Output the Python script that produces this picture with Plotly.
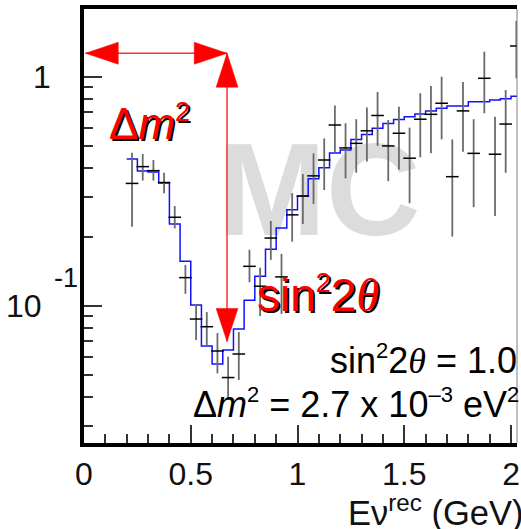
import numpy as np
import plotly.graph_objects as go

# ---- data -------------------------------------------------------------
# reconstructed-energy bins (GeV), 0.05 GeV wide
bin_lo = [0.20, 0.25, 0.30, 0.35, 0.40, 0.45, 0.50, 0.55, 0.60, 0.65,
          0.70, 0.75, 0.80, 0.85, 0.90, 0.95, 1.00, 1.05, 1.10, 1.15,
          1.20, 1.25, 1.30, 1.35, 1.40, 1.45, 1.50, 1.55, 1.60, 1.65,
          1.70, 1.75, 1.80, 1.85, 1.90, 1.95, 2.00]
bin_hi_last = 2.05
bin_center = [0.225, 0.275, 0.325, 0.375, 0.425, 0.475, 0.525, 0.575, 0.625, 0.675,
              0.725, 0.775, 0.825, 0.875, 0.925, 0.975, 1.025, 1.075, 1.125, 1.175,
              1.225, 1.275, 1.325, 1.375, 1.425, 1.475, 1.525, 1.575, 1.625, 1.675,
              1.725, 1.775, 1.825, 1.875, 1.925, 1.975, 2.025]

# oscillated expectation (step histogram)
expected = [0.438, 0.389, 0.385, 0.344, 0.228, 0.157, 0.101, 0.0669, 0.0558, 0.0643,
            0.0794, 0.106, 0.135, 0.177, 0.219, 0.263, 0.302, 0.359, 0.401, 0.466,
            0.480, 0.533, 0.561, 0.597, 0.626, 0.652, 0.671, 0.689, 0.711, 0.730,
            0.747, 0.747, 0.780, 0.780, 0.794, 0.804, 0.824]

# MC pseudo-data ratio with error band limits
ratio = [0.343, 0.406, 0.390, 0.346, 0.244, 0.133, 0.0877, 0.0812, 0.0636, 0.0487,
         0.0617, 0.149, 0.122, 0.198, 0.134, 0.250, 0.302, 0.370, 0.434, 0.617,
         0.490, 0.513, 0.582, 0.679, 0.500, 0.568, 0.442, 0.654, 0.687, 0.768,
         0.367, 0.711, 0.464, 0.987, 0.460, 0.623, 1.366]
ratio_hi = [0.467, 0.461, 0.434, 0.382, 0.273, 0.151, 0.102, 0.0941, 0.0762, 0.0601,
            0.0770, 0.176, 0.147, 0.235, 0.169, 0.311, 0.377, 0.464, 0.539, 0.751,
            0.628, 0.654, 0.736, 0.860, 0.649, 0.742, 0.601, 0.849, 0.914, 1.003,
            0.534, 0.951, 0.654, 1.290, 0.671, 0.877, 1.762]
ratio_lo = [0.222, 0.353, 0.353, 0.311, 0.218, 0.113, 0.0710, 0.0669, 0.0508, 0.0389,
            0.0475, 0.127, 0.0904, 0.159, 0.0923, 0.191, 0.228, 0.279, 0.321, 0.471,
            0.361, 0.382, 0.427, 0.500, 0.351, 0.393, 0.281, 0.446, 0.464, 0.534,
            0.201, 0.472, 0.270, 0.694, 0.247, 0.382, 0.987]

x_ticks = [0, 0.5, 1, 1.5, 2]
x_tick_text = ["0", "0.5", "1", "1.5", "2"]
x_minor = [0.1, 0.2, 0.3, 0.4, 0.6, 0.7, 0.8, 0.9, 1.1, 1.2, 1.3, 1.4,
           1.6, 1.7, 1.8, 1.9]
y_ticks = [0.1, 1]
y_minor = [0.03, 0.04, 0.05, 0.06, 0.07, 0.08, 0.09,
           0.2, 0.3, 0.4, 0.5, 0.6, 0.7, 0.8, 0.9]

# oscillation-parameter arrow guide (GeV, ratio)
dip_energy = 0.67
arrow_top = 1.27
arrow_bottom = 0.070

# ---- geometry helpers ----------------------------------------------------
X_RANGE = [0.0, 2.028]
Y_RANGE = [-1.5983, 0.2969]          # log10 units
W, H = 521, 529
M_L, M_R, M_T, M_B = 84, 1, 9, 86
PLOT_W = W - M_L - M_R
PLOT_H = H - M_T - M_B


def px(v):
    return (v - X_RANGE[0]) / (X_RANGE[1] - X_RANGE[0])


def py(v):
    return (np.log10(v) - Y_RANGE[0]) / (Y_RANGE[1] - Y_RANGE[0])


def dx(pixels):
    return pixels / PLOT_W


def dy(pixels):
    return pixels / PLOT_H


FONT = "Liberation Sans"
RED = "#ff0000"

fig = go.Figure()

# "MC" watermark behind everything
fig.add_trace(go.Scatter(
    x=[1.1], y=[0.285], mode="text", text=["<b>MC</b>"],
    textposition="middle center",
    textfont=dict(family=FONT, size=131, color="#dcdcdc"),
    hoverinfo="skip"))

# expectation histogram
fig.add_trace(go.Scatter(
    x=bin_lo + [bin_hi_last], y=expected + [expected[-1]],
    mode="lines", line=dict(color="#1010ff", width=1.5, shape="hv"),
    hoverinfo="skip"))

# pseudo-data points
err_up = [h - v for h, v in zip(ratio_hi, ratio)]
err_dn = [v - l for v, l in zip(ratio, ratio_lo)]
fig.add_trace(go.Scatter(
    x=bin_center, y=ratio, mode="markers",
    marker=dict(symbol="line-ew", size=9, color="black",
                line=dict(color="black", width=1.5)),
    error_y=dict(type="data", array=err_up, arrayminus=err_dn,
                 symmetric=False, width=0, thickness=1.8, color="#6a6a6a"),
    hoverinfo="skip"))

# ---- arrow guides ---------------------------------------------------------
shapes = []
ax_x = px(dip_energy)
ax_top = py(arrow_top)
ax_bot = py(arrow_bottom)
left_x = dx(1.5)
head_len, head_half = 33, 11

shapes.append(dict(type="line", xref="paper", yref="paper",
                   x0=left_x, x1=ax_x, y0=ax_top, y1=ax_top,
                   line=dict(color="#ff3030", width=1.5)))
shapes.append(dict(type="line", xref="paper", yref="paper",
                   x0=ax_x, x1=ax_x, y0=ax_top, y1=ax_bot,
                   line=dict(color="#ff3030", width=1.5)))


def tri(tip, b1, b2):
    return "M {} {} L {} {} L {} {} Z".format(tip[0], tip[1], b1[0], b1[1], b2[0], b2[1])


heads = [
    # left-pointing head at the axis
    tri((left_x, ax_top), (left_x + dx(head_len), ax_top + dy(head_half)),
        (left_x + dx(head_len), ax_top - dy(head_half))),
    # right-pointing head at the dip energy
    tri((ax_x, ax_top), (ax_x - dx(head_len), ax_top + dy(head_half)),
        (ax_x - dx(head_len), ax_top - dy(head_half))),
    # upward head
    tri((ax_x, ax_top), (ax_x - dx(head_half), ax_top - dy(head_len + 1)),
        (ax_x + dx(head_half), ax_top - dy(head_len + 1))),
    # downward head at the dip depth
    tri((ax_x, ax_bot), (ax_x - dx(head_half), ax_bot + dy(head_len)),
        (ax_x + dx(head_half), ax_bot + dy(head_len))),
]
for p in heads:
    shapes.append(dict(type="path", xref="paper", yref="paper", path=p,
                       fillcolor=RED, line=dict(color=RED, width=0.5)))

# thin right frame edge
shapes.append(dict(type="line", xref="paper", yref="paper",
                   x0=1, x1=1, y0=0, y1=1,
                   line=dict(color="#808080", width=1)))

# ---- text -----------------------------------------------------------------
ann = []
TH = '<span style="font-family:Liberation Serif"><i>θ</i></span>'


def sup(t, size):
    return '<sup><span style="font-size:{}px">{}</span></sup>'.format(size, t)


def shadowed(text, x, y, size):
    for col, sx, sy in (("black", 2, -2), (RED, 0, 0)):
        ann.append(dict(text=text, x=x, y=y, xref="paper", yref="paper",
                        xanchor="left", yanchor="middle", showarrow=False,
                        xshift=sx, yshift=sy,
                        font=dict(family=FONT, size=size, color=col)))


shadowed("Δ<i>m</i>" + sup("2", 27), dx(109 - M_L - 2), 1 - dy(123 - M_T), 44)
shadowed("sin" + sup("2", 27) + "2" + TH, dx(258 - M_L - 2), 1 - dy(294 - M_T), 46)

ann.append(dict(text="sin" + sup("2", 22) + "2" + TH + " = 1.0", x=1, y=1 - dy(359 - M_T),
                xref="paper", yref="paper", xanchor="right", yanchor="middle",
                showarrow=False, xshift=2,
                font=dict(family=FONT, size=36, color="black")))
ann.append(dict(text="Δ<i>m</i>" + sup("2", 22) + " = 2.7 x 10" + sup("–3", 22)
                + " eV" + sup("2", 22),
                x=1, y=1 - dy(403 - M_T),
                xref="paper", yref="paper", xanchor="right", yanchor="middle",
                showarrow=False, xshift=4,
                font=dict(family=FONT, size=36, color="black")))

# y tick labels (ROOT-style exponent)
TICK_FONT = dict(family=FONT, size=32, color="#111111")
ann.append(dict(text="1", x=0, y=0, xref="paper", yref="y", xanchor="right",
                yanchor="middle", xshift=-31, showarrow=False, font=TICK_FONT))
ann.append(dict(text="10", x=0, y=-1, xref="paper", yref="y", xanchor="right",
                yanchor="middle", xshift=-40, showarrow=False, font=TICK_FONT))
ann.append(dict(text="-1", x=0, y=-1, xref="paper", yref="y", xanchor="right",
                yanchor="middle", xshift=-4, yshift=28, showarrow=False,
                font=dict(family=FONT, size=27, color="#111111")))

# x-axis title
ann.append(dict(text="Eν<sup>rec</sup> (GeV)", x=1, y=-dy(510 - M_T - PLOT_H),
                xref="paper", yref="paper", xanchor="right", yanchor="middle",
                showarrow=False, xshift=8,
                font=dict(family=FONT, size=34.5, color="#111111")))

fig.update_layout(
    width=W, height=H,
    margin=dict(l=M_L, r=M_R, t=M_T, b=M_B, pad=0),
    paper_bgcolor="white", plot_bgcolor="white",
    showlegend=False,
    shapes=shapes, annotations=ann,
    xaxis=dict(range=X_RANGE, showgrid=False, zeroline=False,
               showline=True, linewidth=4, linecolor="black", mirror=True,
               ticks="inside", ticklen=18, tickwidth=1.5, tickcolor="#333333",
               tickvals=x_ticks, ticktext=x_tick_text, tickfont=TICK_FONT,
               ticklabeloverflow="allow",
               minor=dict(ticks="inside", ticklen=9, tickwidth=1.5,
                          tickcolor="#333333", tickvals=x_minor, showgrid=False)),
    yaxis=dict(type="log", range=Y_RANGE, showgrid=False, zeroline=False,
               showline=True, linewidth=4, linecolor="black",
               ticks="inside", ticklen=18, tickwidth=1.5, tickcolor="#333333",
               tickvals=y_ticks, showticklabels=False,
               minor=dict(ticks="inside", ticklen=9, tickwidth=1.5,
                          tickcolor="#333333", tickvals=y_minor, showgrid=False)),
)

fig.write_html("out.html")
